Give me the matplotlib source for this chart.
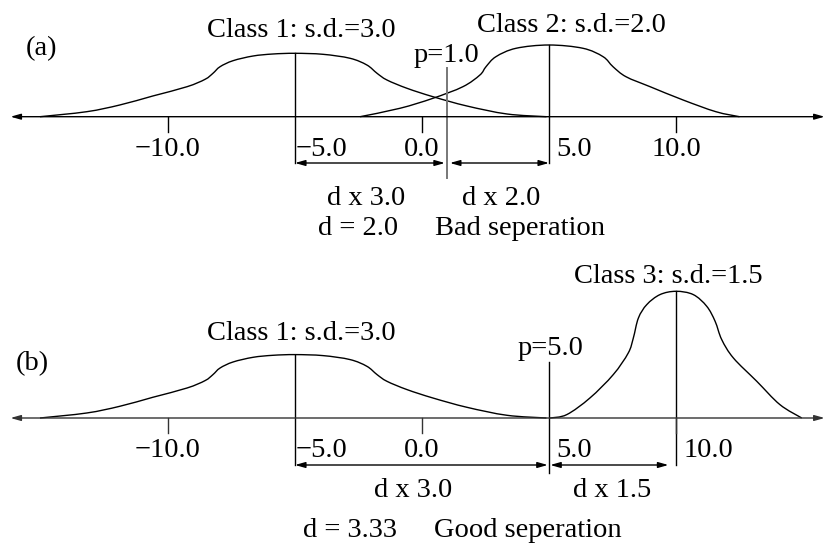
import matplotlib
matplotlib.use("Agg")
import matplotlib.pyplot as plt
from matplotlib.path import Path
from matplotlib.patches import PathPatch

plt.rcParams['font.family'] = ['Liberation Serif', 'DejaVu Serif']
FS = 20.5

# horizontal scale: value units; vertical: pixel rows (0 at top)
PX_PER_UNIT = 25.4
X_ZERO_PX = 422

ticks = [-10, 0, 10]

# class means / s.d.
mean1, sd1 = -5.0, 3.0
mean2, sd2 = 5.0, 2.0
mean3, sd3 = 10.0, 1.5
p_a, d_a = 1.0, 2.0
p_b, d_b = 5.0, 3.33

# curve outlines: offset from the mean (units) and height above the axis (px)
c1_dx = [-10.04, -8.2, -6.9, -5.6, -4.25, -3.54, -3.23, -2.95, -2.44, -1.65, -0.87, 0.0,
         1.1, 2.17, 2.83, 3.23, 3.62, 4.41, 5.43, 6.77, 8.35, 9.9]
c1_h = [0.0, 5.0, 11.7, 20.7, 30.0, 37.4, 43.4, 50.0, 56.0, 60.7, 62.7, 63.4,
        62.4, 58.4, 51.7, 43.4, 36.7, 28.4, 20.0, 10.7, 2.7, 0.0]

c2_dx = [-7.44, -5.87, -4.57, -3.39, -2.72, -2.48, -2.09, -1.30, 0.0,
         1.34, 2.13, 2.52, 3.03, 3.98, 5.28, 6.57, 7.5]
c2_h = [0.0, 8.4, 18.4, 30.0, 41.7, 50.0, 60.0, 68.4, 71.7,
        68.4, 60.0, 50.0, 40.0, 30.0, 16.7, 5.0, 0.0]

c3_dx = [-4.96, -4.30, -3.39, -2.47, -1.88, -1.68, -1.48, -1.15, -0.63, 0.0,
         0.68, 1.21, 1.54, 1.80, 2.26, 3.18, 4.09, 4.95]
c3_h = [0.0, 3.4, 20.0, 43.4, 65.0, 80.0, 100.0, 113.4, 123.4, 126.7,
        123.4, 111.7, 96.7, 78.4, 60.0, 36.7, 13.4, 0.0]

fig = plt.figure(figsize=(8.25, 5.5), dpi=100)
ax = fig.add_axes([0, 0, 1, 1])
ax.set_xlim(-X_ZERO_PX / PX_PER_UNIT, (825 - X_ZERO_PX) / PX_PER_UNIT)
ax.set_ylim(550, 0)
ax.axis('off')


def curve(mean, dx, h, base):
    # spline through the outline points, drawn as cubic bezier segments
    pts = [(mean + a, base - b) for a, b in zip(dx, h)]
    pts = [pts[0]] + pts + [pts[-1]]
    verts = [pts[1]]
    codes = [Path.MOVETO]
    for i in range(1, len(pts) - 2):
        p0, p1, p2, p3 = pts[i - 1], pts[i], pts[i + 1], pts[i + 2]
        c1 = (p1[0] + (p2[0] - p0[0]) / 6, p1[1] + (p2[1] - p0[1]) / 6)
        c2 = (p2[0] - (p3[0] - p1[0]) / 6, p2[1] - (p3[1] - p1[1]) / 6)
        verts += [c1, c2, p2]
        codes += [Path.CURVE4] * 3
    ax.add_patch(PathPatch(Path(verts, codes), fill=False, edgecolor='black', lw=1.0))


def axis_line(base, color):
    ax.annotate('', xy=(15.85, base), xytext=(-16.2, base),
                arrowprops=dict(arrowstyle='<|-|>,head_length=0.6,head_width=0.17',
                                color=color, lw=1.0, shrinkA=0, shrinkB=0))


def dim_arrow(x0, x1, y):
    ax.annotate('', xy=(x1, y), xytext=(x0, y),
                arrowprops=dict(arrowstyle='<|-|>,head_length=0.6,head_width=0.17',
                                color='black', lw=1.0, shrinkA=0, shrinkB=0))


def fmt(t):
    return '%.1f' % t if t >= 0 else '\u2212%.1f' % -t


def tick_labels(base, centred, right_of, color):
    lab_y = base + 39
    for t in ticks:
        ax.plot([t, t], [base, base + 15], color=color, lw=1.0)
    for t in centred:
        ax.text(t, lab_y, fmt(t), fontsize=FS, ha='center', va='baseline')
    for t in right_of:
        x = t + 0.02 if t < 0 else t + 0.3
        ax.text(x, lab_y, fmt(t), fontsize=FS, ha='left', va='baseline')


# ---------------- (a) ----------------
base_a = 116.7
axis_line(base_a, 'black')
curve(mean1, c1_dx, c1_h, base_a)
curve(mean2, c2_dx, c2_h, base_a)
ax.plot([mean1, mean1], [base_a - max(c1_h), 163], color='black', lw=1.0)
ax.plot([mean2, mean2], [base_a - max(c2_h), 163], color='black', lw=1.0)
ax.plot([p_a, p_a], [68, 178], color='#777777', lw=1.4)
dim_arrow(mean1, p_a - 0.1, 163)
dim_arrow(p_a + 0.1, mean2, 163)
tick_labels(base_a, [-10, 0, 10], [mean1, mean2], 'black')

ax.text(-15.6, 55, '(a)', fontsize=FS, ha='left', va='baseline')
ax.text(mean1 + 0.25, 37, 'Class 1: s.d.=%.1f' % sd1, fontsize=FS, ha='center', va='baseline')
ax.text(mean2 + 0.9, 32, 'Class 2: s.d.=%.1f' % sd2, fontsize=FS, ha='center', va='baseline')
ax.text(p_a - 0.05, 62, 'p=%.1f' % p_a, fontsize=FS, ha='center', va='baseline')
ax.text(-2.2, 205, 'd x %.1f' % sd1, fontsize=FS, ha='center', va='baseline')
ax.text(3.1, 205, 'd x %.1f' % sd2, fontsize=FS, ha='center', va='baseline')
ax.text(-2.5, 235, 'd = %.1f' % d_a, fontsize=FS, ha='center', va='baseline')
ax.text(3.85, 235, 'Bad seperation', fontsize=FS, ha='center', va='baseline')

# ---------------- (b) ----------------
base_b = 418
axis_line(base_b, '#333333')
curve(mean1, c1_dx, c1_h, base_b)
curve(mean3, c3_dx, c3_h, base_b)
ax.plot([mean1, mean1], [base_b - max(c1_h), 465], color='black', lw=1.0)
ax.plot([mean3, mean3], [base_b - max(c3_h), 465], color='black', lw=1.0)
ax.plot([p_b, p_b], [362, 473], color='black', lw=1.0)
dim_arrow(mean1, p_b - 0.05, 465)
dim_arrow(p_b + 0.05, 9.7, 465)
tick_labels(base_b, [-10, 0], [mean1, p_b, mean3], '#333333')

ax.text(-16.0, 370, '(b)', fontsize=FS, ha='left', va='baseline')
ax.text(mean1 + 0.25, 340, 'Class 1: s.d.=%.1f' % sd1, fontsize=FS, ha='center', va='baseline')
ax.text(mean3 - 0.3, 283, 'Class 3: s.d.=%.1f' % sd3, fontsize=FS, ha='center', va='baseline')
ax.text(p_b + 0.05, 355, 'p=%.1f' % p_b, fontsize=FS, ha='center', va='baseline')
ax.text(-0.35, 497, 'd x %.1f' % sd1, fontsize=FS, ha='center', va='baseline')
ax.text(7.5, 497, 'd x %.1f' % sd3, fontsize=FS, ha='center', va='baseline')
ax.text(-2.85, 537, 'd = %.2f' % d_b, fontsize=FS, ha='center', va='baseline')
ax.text(4.17, 537, 'Good seperation', fontsize=FS, ha='center', va='baseline')

fig.savefig('out.png', dpi=100)
